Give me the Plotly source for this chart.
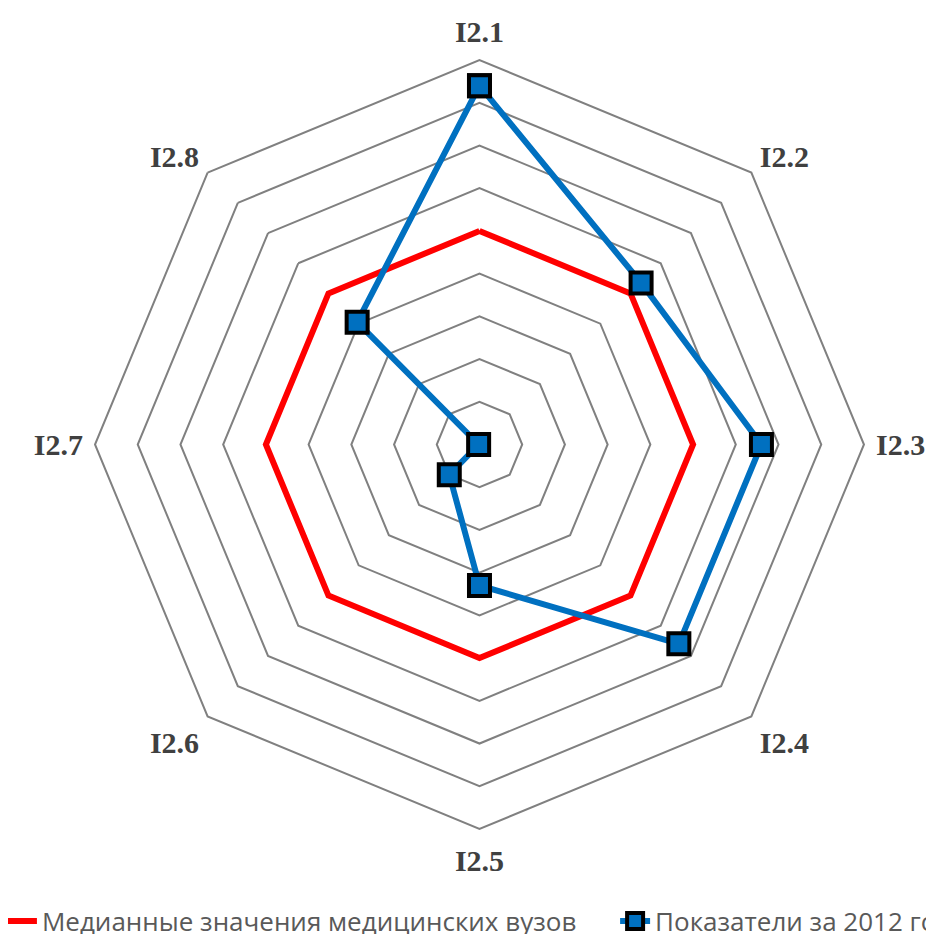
import plotly.graph_objects as go

# Радарная диаграмма: показатели I2.x за 2012 год против медианы мед. вузов

categories = ["I2.1", "I2.2", "I2.3", "I2.4", "I2.5", "I2.6", "I2.7", "I2.8"]
median_values = [5, 5, 5, 5, 5, 5, 5, 5]
# I2.7 практически в центре (ровно 0 plotly не рисует маркером)
values_2012 = [8.4, 5.35, 6.6, 6.6, 3.3, 1.0, 0.02, 4.05]

name_median = "Медианные значения медицинских вузов"
name_2012 = "Показатели за 2012 год"

# замыкаем многоугольник
theta = categories + categories[:1]

fig = go.Figure()

fig.add_trace(go.Scatterpolar(
    r=median_values + median_values[:1],
    theta=theta,
    name=name_median,
    mode="lines",
    line=dict(color="#FF0000", width=6),
    legend="legend",
))

fig.add_trace(go.Scatterpolar(
    r=values_2012 + values_2012[:1],
    theta=theta,
    name=name_2012,
    mode="lines+markers",
    line=dict(color="#0070C0", width=6),
    marker=dict(symbol="square", size=21, color="#0070C0",
                line=dict(color="black", width=4)),
    legend="legend2",
))

legend_font = dict(family="Open Sans", size=26, color="#595959")

# страница даёт отступ body 8px, поэтому домен смещён
fig.update_layout(
    width=934,
    height=934,
    margin=dict(l=0, r=0, t=0, b=0, autoexpand=False),
    paper_bgcolor="white",
    plot_bgcolor="white",
    polar=dict(
        domain=dict(x=[0.0931, 0.9165], y=[0.1210, 0.9443]),
        bgcolor="white",
        gridshape="linear",
        radialaxis=dict(
            range=[0, 9],
            dtick=1,
            showticklabels=False,
            ticks="",
            showline=False,
            gridcolor="#808080",
            gridwidth=2,
        ),
        angularaxis=dict(
            rotation=90,
            direction="clockwise",
            showgrid=False,
            showline=True,
            linecolor="#808080",
            linewidth=2,
            ticks="outside",
            ticklen=5,
            tickcolor="rgba(0,0,0,0)",
            tickfont=dict(family="Liberation Serif", size=30, color="#404040",
                          weight="bold"),
        ),
    ),
    showlegend=True,
    legend=dict(
        orientation="h",
        x=-0.0065,
        xanchor="left",
        y=0.0224,
        yanchor="middle",
        font=legend_font,
        itemwidth=30,
    ),
    legend2=dict(
        orientation="h",
        x=0.65,
        xanchor="left",
        y=0.0224,
        yanchor="middle",
        font=legend_font,
        itemwidth=30,
    ),
)

fig.write_html("out.html")
